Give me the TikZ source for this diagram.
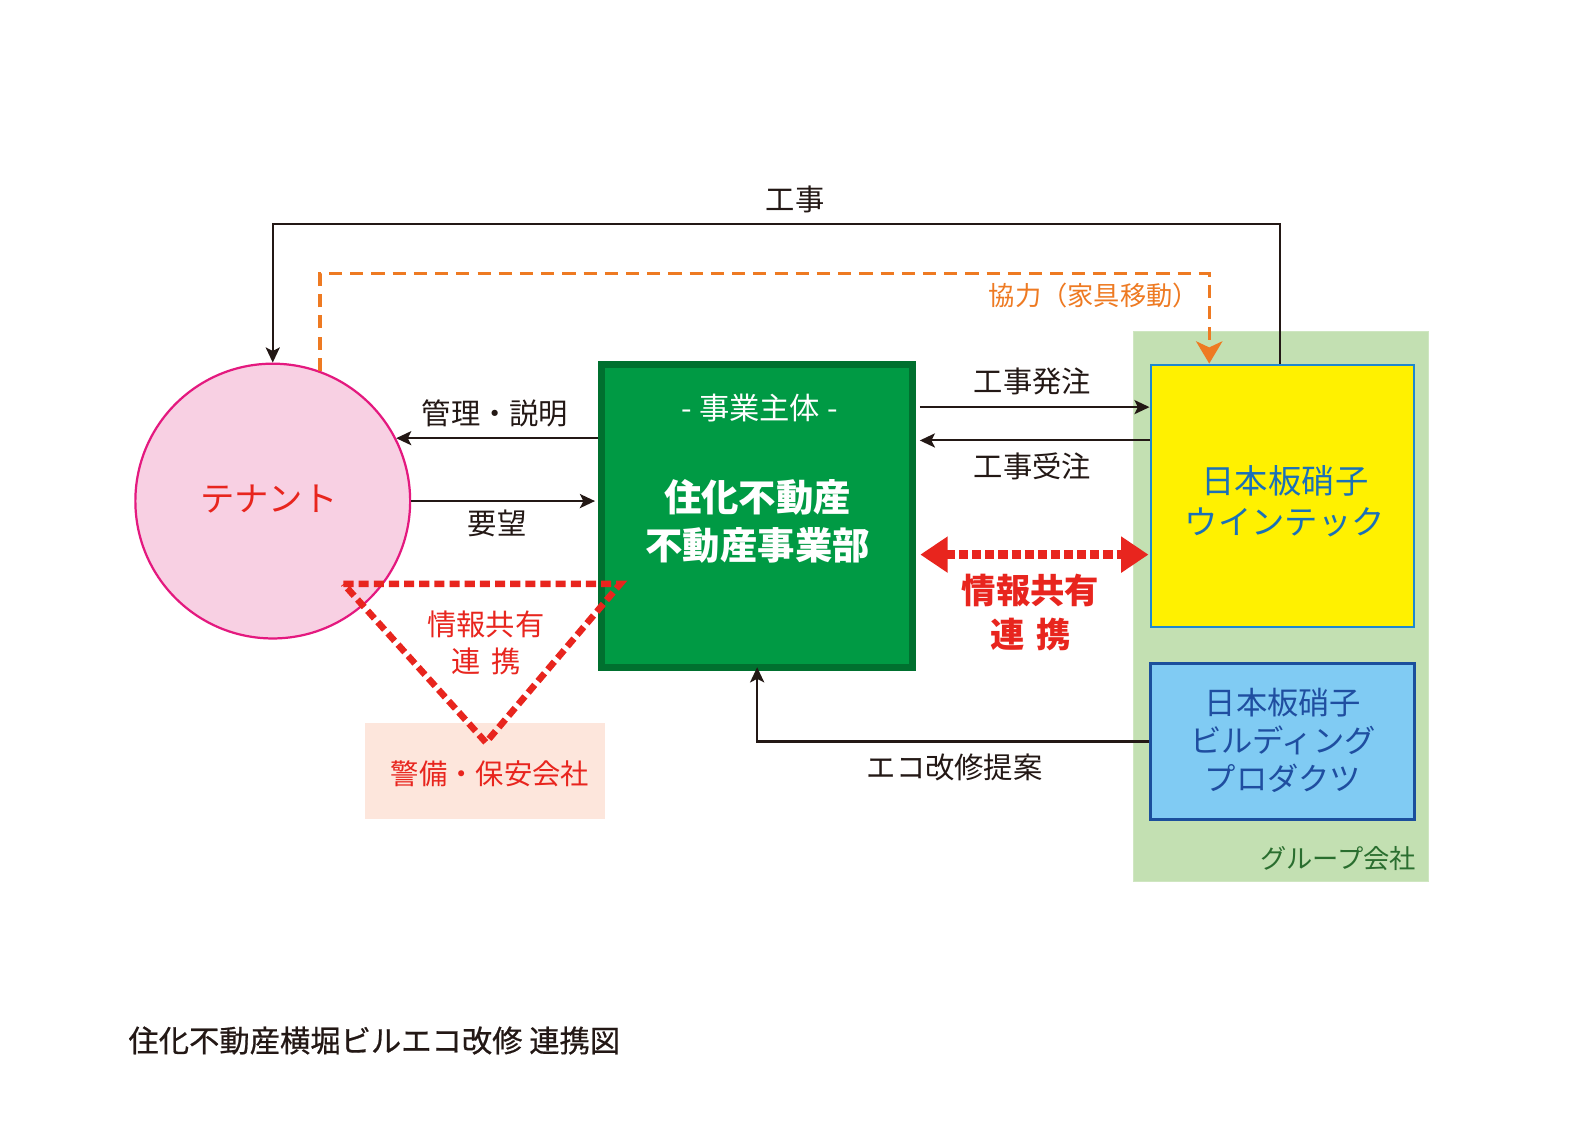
\documentclass[tikz,border=0pt]{standalone}
\usepackage{fontspec}
\setmainfont{Noto Sans CJK JP}
\newfontfamily\jpsemi[FakeBold=0.6]{Noto Sans CJK JP}
\usetikzlibrary{arrows.meta}
\definecolor{ink}{HTML}{231815}
\definecolor{pinkfill}{HTML}{F8D0E3}
\definecolor{pinkline}{HTML}{E4197F}
\definecolor{tred}{HTML}{E8251E}
\definecolor{gfill}{HTML}{009A44}
\definecolor{gline}{HTML}{00702F}
\definecolor{grpfill}{HTML}{C3E0B2}
\definecolor{grptext}{HTML}{2A6E2F}
\definecolor{yfill}{HTML}{FFF100}
\definecolor{yline}{HTML}{1E88D0}
\definecolor{ytext}{HTML}{1A70B8}
\definecolor{bfill}{HTML}{80CBF3}
\definecolor{bline}{HTML}{1B4F9C}
\definecolor{btext}{HTML}{1F4EA0}
\definecolor{peach}{HTML}{FDE6DC}
\definecolor{orng}{HTML}{EE7A22}
\tikzset{
  lbl/.style={font=\fontsize{29}{33}\selectfont, text=ink, inner sep=0pt},
  arr/.style={draw=ink, line width=2pt, -{Stealth[length=15pt,width=14pt,inset=3.5pt]}},
  boxnode/.style={rectangle, inner sep=0pt},
}
\begin{document}
\begin{tikzpicture}[x=1pt,y=-1pt]
\useasboundingbox[fill=white] (0,0) rectangle (1568,1109);

% group background
\node[boxnode, fill=grpfill, draw=grpfill!80!white, line width=1pt, minimum width=292pt, minimum height=545pt] (group) at (1268,600.5) {};
\node[anchor=east, inner sep=0pt, text=grptext, font=\fontsize{26}{30}\selectfont] (grplbl) at (1402,850) {グループ会社};

% tenant
\node[circle, fill=pinkfill, draw=pinkline, line width=2.2pt, minimum size=272pt, inner sep=0pt] (tenant) at (270,496) {};
\node[inner sep=0pt, text=tred, font=\fontsize{34}{38}\selectfont] (tenanttxt) at (266,494) {テナント};

% main green box
\node[boxnode, fill=gfill, draw=gline, line width=7pt, minimum width=308pt, minimum height=300pt] (main) at (749.5,510.5) {};
\node[inner sep=0pt, text=white, font=\fontsize{30}{34}\selectfont] (maintitle) at (752,404) {- 事業主体 -};
\node[inner sep=0pt, text=white, align=center, font=\fontsize{37}{48}\selectfont\bfseries] (maintxt) at (750,516) {住化不動産\\不動産事業部};

% wintec
\node[boxnode, fill=yfill, draw=yline, line width=2.2pt, minimum width=261pt, minimum height=260pt] (wintec) at (1269.5,491) {};
\node[inner sep=0pt, text=ytext, align=center, font=\fontsize{33}{41}\selectfont] (wintectxt) at (1272,496) {日本板硝子\\ウインテック};

% building products
\node[boxnode, fill=bfill, draw=bline, line width=2.8pt, minimum width=261pt, minimum height=154pt] (nsgbp) at (1269.5,734) {};
\node[inner sep=0pt, text=btext, align=center, font=\fontsize{31}{38}\selectfont] (nsgbptxt) at (1270,733) {日本板硝子\\ビルディング\\プロダクツ};

% security company
\node[boxnode, fill=peach, minimum width=238pt, minimum height=95pt] (security) at (480,763.5) {};
\node[inner sep=0pt, text=tred, font=\fontsize{28}{32}\selectfont] (sectxt) at (485,766) {警備・保安会社};

% top: 工事
\draw[arr] (wintec.north -| 1267,0) -- (1267,222) -| (tenant.north);
\node[lbl] (kouji) at (787,197) {工事};

% orange dashed: 協力
\draw[draw=orng, line width=3.3pt, dash pattern=on 13pt off 8pt, -{Stealth[length=22pt,width=26pt,inset=6pt,fill=orng]}]
  (tenant.70) -- (tenant.70 |- 0,271) -| (wintec.north -| 1197,0);
\node[anchor=east, inner sep=0pt, text=orng, font=\fontsize{26}{30}\selectfont] (kyoryoku) at (1187,293) {協力（家具移動）};

% 管理・説明
\draw[arr] (main.west |- tenant.27) -- (tenant.27);
\node[lbl] (kanri) at (490,409) {管理・説明};

% 要望
\draw[arr] (tenant.east) -- ([xshift=-3pt]main.west |- tenant.east);
\node[lbl] (youbou) at (492,518) {要望};

% 工事発注 / 工事受注
\draw[arr] ([xshift=3.5pt]main.east |- 0,403) -- (wintec.west |- 0,403);
\node[lbl] (hacchu) at (1022,378) {工事発注};
\draw[arr] (wintec.west |- 0,436) -- ([xshift=3.5pt]main.east |- 0,436);
\node[lbl] (juchu) at (1022,462) {工事受注};

% red double arrow
\draw[draw=tred, line width=9pt, dash pattern=on 9pt off 4pt,
  {Triangle[length=27pt,width=34pt,fill=tred]}-{Triangle[length=27pt,width=34pt,fill=tred]}]
  ([xshift=4pt]main.east |- 0,549) -- ([xshift=-1pt]wintec.west |- 0,549);
\node[inner sep=0pt, text=tred, align=center, font=\fontsize{34}{43}\selectfont\bfseries] (jouhou2) at (1020,606.5) {情報共有\\連\hspace{0.35em}携};

% エコ改修提案
\draw[arr] (nsgbp.west) -| ([yshift=3.5pt]main.south);
\node[lbl] (eco) at (945,760) {エコ改修提案};

% red dotted triangle
\coordinate (tl) at (340,578);
\coordinate (tr) at (614,578);
\coordinate (tb) at (481,735);
\draw[draw=tred, line width=6.5pt, dash pattern=on 10pt off 5pt] (tl) -- (tr) -- (tb) -- cycle;
\node[inner sep=0pt, text=tred, align=center, font=\fontsize{29}{37}\selectfont] (jouhou1) at (481,636.5) {情報共有\\連\hspace{0.35em}携};

% caption
\node[anchor=west, inner sep=0pt, text=ink, font=\fontsize{30}{34}\selectfont\jpsemi] (caption) at (127,1030) {住化不動産横堀ビルエコ改修 連携図};
\end{tikzpicture}
\end{document}
